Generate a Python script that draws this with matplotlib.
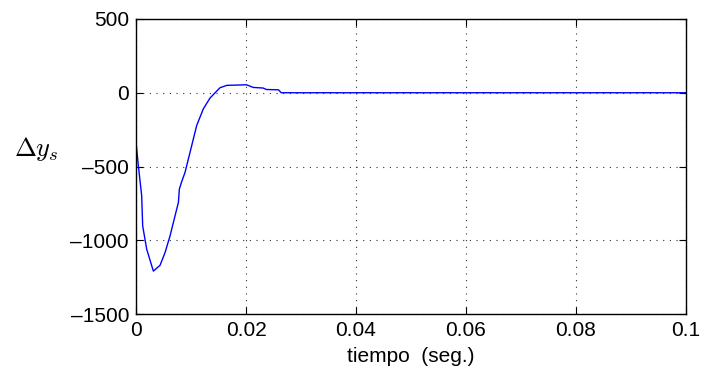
import matplotlib.pyplot as plt
import numpy as np

# time (s) and response values
t = [0.0, 0.0, 0.00042, 0.00103, 0.00121, 0.00194, 0.00315, 0.00436, 0.00527,
     0.00618, 0.00709, 0.0077, 0.00788, 0.0083, 0.00891, 0.00982, 0.01103,
     0.01224, 0.01345, 0.01527, 0.0165, 0.0201, 0.0213, 0.0231, 0.0237,
     0.0259, 0.0264, 0.1]
dy = [0, -335, -494, -699, -903, -1061, -1209, -1170, -1084,
      -971, -835, -744, -653, -603, -540, -404, -222,
      -109, -36, 34, 50, 54, 36, 32, 22,
      20, 0, 0]

xticks = [0, 0.02, 0.04, 0.06, 0.08, 0.1]
xticklabels = ['0', '0.02', '0.04', '0.06', '0.08', '0.1']
yticks = [-1500, -1000, -500, 0, 500]
yticklabels = ['\u20131500', '\u20131000', '\u2013500', '0', '500']

plt.rcParams['font.family'] = ['Liberation Sans', 'DejaVu Sans']
plt.rcParams['mathtext.fontset'] = 'cm'

fig = plt.figure(figsize=(7.03, 3.86), dpi=100)
ax = fig.add_axes([0.1935, 0.1865, 0.7823, 0.7643])
ax.plot(t, dy, color='#0000ff', lw=1.0)

ax.set_xlim(0, 0.1)
ax.set_ylim(-1500, 500)
ax.set_xticks(xticks)
ax.set_xticklabels(xticklabels)
ax.set_yticks(yticks)
ax.set_yticklabels(yticklabels)
ax.tick_params(direction='in', labelsize=15, length=5, top=True, right=True)
ax.tick_params(axis='x', pad=5)
ax.tick_params(axis='y', pad=5)
ax.grid(True, color='#333333', linestyle=(0, (1, 5)), linewidth=0.8)
for s in ax.spines.values():
    s.set_linewidth(1.0)

ax.set_xlabel('tiempo  (seg.)', fontsize=15, labelpad=5)
fig.text(0.02, 0.615, r'$\Delta y_s$', fontsize=19, ha='left', va='center')

fig.savefig('out.png', dpi=100)
